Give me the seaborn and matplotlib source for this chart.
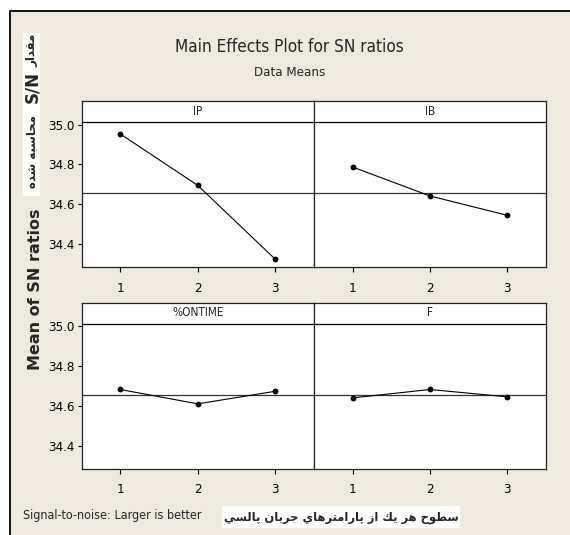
import numpy as np
import pandas as pd
import matplotlib
matplotlib.use("Agg")
import matplotlib.pyplot as plt
import seaborn as sns
from matplotlib.patches import Rectangle
from matplotlib.lines import Line2D

# ---------------- data ----------------
factors = ["IP", "IB", "%ONTIME", "F"]
levels = [1, 2, 3]
ip_values = [34.953, 34.695, 34.325]
ib_values = [34.787, 34.642, 34.545]
ontime_values = [34.682, 34.610, 34.673]
f_values = [34.640, 34.682, 34.645]
ytick_values = [34.4, 34.6, 34.8, 35.0]
ytick_labels = ["34.4", "34.6", "34.8", "35.0"]

title_text = "Main Effects Plot for SN ratios"
subtitle_text = "Data Means"
ylabel_text = "Mean of SN ratios"
note_text = "Signal-to-noise: Larger is better"
fa_ylabel_parts = ["مقدار", "S/N", "محاسبه شده"]
fa_xlabel = "سطوح هر يك از پارامترهاي جريان پالسي"

df = pd.DataFrame({
    "factor": np.repeat(factors, len(levels)),
    "level": levels * len(factors),
    "sn": ip_values + ib_values + ontime_values + f_values,
})
grand_mean = df["sn"].mean()

# ---------------- minimal Arabic shaping (presentation forms) ----------------
FORMS = {
    "ا": ("\uFE8D", "\uFE8E"),
    "ب": ("\uFE8F", "\uFE90", "\uFE91", "\uFE92"),
    "ت": ("\uFE95", "\uFE96", "\uFE97", "\uFE98"),
    "ج": ("\uFE9D", "\uFE9E", "\uFE9F", "\uFEA0"),
    "ح": ("\uFEA1", "\uFEA2", "\uFEA3", "\uFEA4"),
    "د": ("\uFEA9", "\uFEAA"),
    "ر": ("\uFEAD", "\uFEAE"),
    "ز": ("\uFEAF", "\uFEB0"),
    "س": ("\uFEB1", "\uFEB2", "\uFEB3", "\uFEB4"),
    "ش": ("\uFEB5", "\uFEB6", "\uFEB7", "\uFEB8"),
    "ط": ("\uFEC1", "\uFEC2", "\uFEC3", "\uFEC4"),
    "ق": ("\uFED5", "\uFED6", "\uFED7", "\uFED8"),
    "ك": ("\uFED9", "\uFEDA", "\uFEDB", "\uFEDC"),
    "ل": ("\uFEDD", "\uFEDE", "\uFEDF", "\uFEE0"),
    "م": ("\uFEE1", "\uFEE2", "\uFEE3", "\uFEE4"),
    "ن": ("\uFEE5", "\uFEE6", "\uFEE7", "\uFEE8"),
    "ه": ("\uFEE9", "\uFEEA", "\uFEEB", "\uFEEC"),
    "و": ("\uFEED", "\uFEEE"),
    "ي": ("\uFEF1", "\uFEF2", "\uFEF3", "\uFEF4"),
    "پ": ("\uFB56", "\uFB57", "\uFB58", "\uFB59"),
}


def shape_word(w):
    if not any(c in FORMS for c in w):
        return w
    out = []
    for i, ch in enumerate(w):
        if ch not in FORMS:
            out.append(ch)
            continue
        f = FORMS[ch]
        prev = w[i - 1] if i > 0 else None
        nxt = w[i + 1] if i + 1 < len(w) else None
        jp = prev is not None and prev in FORMS and len(FORMS[prev]) == 4
        jn = nxt is not None and nxt in FORMS and len(f) == 4
        if jp and jn:
            out.append(f[3])
        elif jp:
            out.append(f[1])
        elif jn:
            out.append(f[2])
        else:
            out.append(f[0])
    return "".join(out)[::-1]


def rtl(text):
    return " ".join(shape_word(t) for t in text.split(" ")[::-1])


# ---------------- figure ----------------
sns.set_style("white")
plt.rcParams["font.family"] = ["DejaVu Sans"]
plt.rcParams["font.stretch"] = "condensed"

W, H = 570, 535
BEIGE = "#EEEAE0"
fig = plt.figure(figsize=(W / 100, H / 100), dpi=100, facecolor="white")


def fx(x):
    return x / W


def fy(y):
    return 1 - y / H


fig.patches.append(Rectangle((fx(10), 0), 1 - fx(10), fy(11), transform=fig.transFigure,
                             facecolor=BEIGE, edgecolor="none", zorder=-10))
fig.lines.append(Line2D([fx(10.5), fx(10.5)], [0, fy(11)], transform=fig.transFigure,
                        color="black", lw=1.3))
fig.lines.append(Line2D([fx(10), 1], [fy(11), fy(11)], transform=fig.transFigure,
                        color="black", lw=1.3))

col_x = [(81.5, 314), (314, 546)]
row_y = [(101, 267), (302.5, 468.5)]
ylim = (34.286, 35.118)
strip_frac = 145 / 166

for k, fac in enumerate(factors):
    r, c = divmod(k, 2)
    x0, x1 = col_x[c]
    y0, y1 = row_y[r]
    ax = fig.add_axes([fx(x0), fy(y1), (x1 - x0) / W, (y1 - y0) / H])
    ax.set_facecolor("white")
    ax.axhline(grand_mean, color="#333333", lw=0.9, zorder=1)
    sub = df[df["factor"] == fac]
    sns.lineplot(data=sub, x="level", y="sn", ax=ax, color="black", lw=0.8,
                 marker="o", markersize=4.2, markeredgewidth=0, zorder=3)
    ax.set_xlim(0.5, 3.5)
    ax.set_ylim(*ylim)
    ax.set_xticks(levels)
    ax.set_xticklabels([str(v) for v in levels], fontsize=9.5)
    ax.set_xlabel("")
    ax.set_ylabel("")
    ax.tick_params(axis="x", direction="out", length=3.5, width=0.8, pad=7,
                   bottom=True, colors="black")
    if c == 0:
        ax.set_yticks(ytick_values)
        ax.set_yticklabels(ytick_labels, fontsize=9.5)
        ax.tick_params(axis="y", direction="out", length=3, width=0.8, pad=2,
                       left=True, colors="black")
    else:
        ax.set_yticks([])
    for s in ax.spines.values():
        s.set_color("#222222")
        s.set_linewidth(0.9)
    ax.plot([0, 1], [strip_frac, strip_frac], transform=ax.transAxes,
            color="black", lw=0.9, clip_on=False, zorder=4)
    ax.text(0.5, (1 + strip_frac) / 2, fac, transform=ax.transAxes,
            ha="center", va="center", fontsize=8.5)

# titles
fig.text(fx(289), fy(47), title_text, ha="center", va="center", fontsize=12.3)
fig.text(fx(290), fy(72), subtitle_text, ha="center", va="center", fontsize=9.5)

# y label
fig.text(fx(36), fy(289), ylabel_text, rotation=90, ha="center", va="center",
         fontsize=11.5, fontweight="bold", family=["DejaVu Sans"], fontstretch="normal")

# Persian y-label box (three pieces: word, large S/N, words)
fig.patches.append(Rectangle((fx(23), fy(196)), 17 / W, (196 - 33) / H,
                             transform=fig.transFigure, facecolor="white",
                             edgecolor="none", zorder=5))
fa_pos = [50, 87, 151]
fa_size = [8.5, 12, 8.5]
for part, yy, fs in zip(fa_ylabel_parts, fa_pos, fa_size):
    fig.text(fx(32), fy(yy), rtl(part), rotation=90, ha="center", va="center",
             fontsize=fs, fontweight="bold", family=["DejaVu Sans"],
             fontstretch="normal", zorder=6)

# bottom note
fig.text(fx(23), fy(516), note_text, ha="left", va="center", fontsize=9)

# Persian x-label box
fig.patches.append(Rectangle((fx(222), fy(528)), (460 - 222) / W, 22 / H,
                             transform=fig.transFigure, facecolor="white",
                             edgecolor="none", zorder=5))
fig.text(fx(341), fy(517), rtl(fa_xlabel), ha="center", va="center",
         fontsize=8.3, fontweight="bold", family=["DejaVu Sans"], fontstretch="normal",
         zorder=6)

fig.savefig("out.png", dpi=100, facecolor="white")
